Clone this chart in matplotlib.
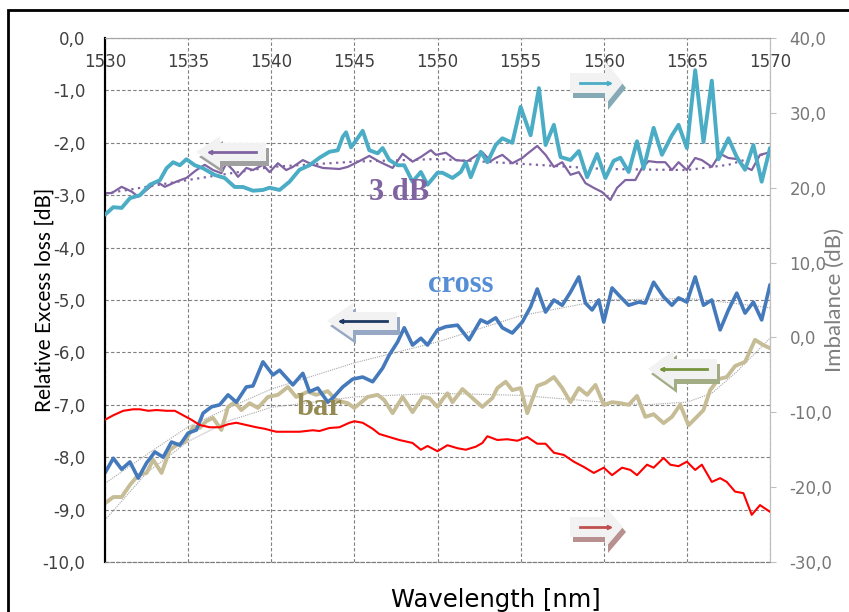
import numpy as np
import matplotlib
matplotlib.use("Agg")
import matplotlib.pyplot as plt
from matplotlib.ticker import FuncFormatter, MultipleLocator
from matplotlib.patches import Polygon, Rectangle
from matplotlib.lines import Line2D

## data (wavelength in nm)
# 3 dB imbalance, right axis (cyan)
wl_cyan = [1530.0, 1530.5, 1531.0, 1531.5, 1532.1, 1532.7, 1533.3, 1533.7, 1534.1, 1534.5,
           1534.9, 1535.4, 1535.9, 1536.6, 1537.2, 1537.8, 1538.3, 1538.9, 1539.5, 1539.9,
           1540.5, 1541.1, 1541.7, 1542.3, 1542.9, 1543.5, 1544.0, 1544.3, 1544.5, 1544.8,
           1545.0, 1545.5, 1545.9, 1546.4, 1546.7, 1547.1, 1547.6, 1548.0, 1548.5, 1549.0,
           1549.4, 1550.0, 1550.3, 1550.9, 1551.4, 1551.7, 1552.0, 1552.6, 1553.0, 1553.5,
           1553.9, 1554.5, 1555.0, 1555.6, 1556.1, 1556.5, 1557.0, 1557.4, 1558.0, 1558.5,
           1559.0, 1559.6, 1560.1, 1560.6, 1561.0, 1561.5, 1562.0, 1562.4, 1563.0, 1563.5,
           1564.1, 1564.5, 1565.0, 1565.5, 1566.0, 1566.5, 1566.9, 1567.5, 1568.0, 1568.5,
           1569.0, 1569.5, 1570.0]
imb_cyan = [16.4, 17.4, 17.3, 18.6, 19.0, 20.4, 21.0, 22.6, 23.4, 23.0,
            23.8, 23.0, 22.6, 21.7, 21.3, 20.1, 20.1, 19.6, 19.7, 20.0,
            19.7, 20.8, 22.4, 23.0, 24.0, 24.8, 25.0, 26.8, 27.4, 25.4,
            26.0, 27.6, 25.0, 24.6, 25.3, 23.7, 23.0, 23.0, 20.8, 22.1,
            20.4, 22.0, 22.0, 21.3, 22.1, 23.4, 21.4, 24.8, 23.4, 25.7,
            26.6, 26.0, 30.8, 27.0, 33.3, 25.7, 28.4, 24.1, 23.7, 24.9,
            21.4, 24.5, 21.3, 23.6, 24.0, 22.1, 26.2, 22.6, 28.0, 24.4,
            27.0, 28.4, 25.3, 35.7, 26.1, 34.3, 23.8, 26.6, 24.1, 22.4,
            25.7, 20.8, 25.3]

# 3 dB excess loss, left axis (purple)
wl_3db = [1530.0, 1530.4, 1531.0, 1531.6, 1532.0, 1532.5, 1533.1, 1533.6, 1534.3, 1534.9,
          1535.5, 1536.0, 1536.5, 1537.0, 1537.3, 1537.7, 1538.0, 1538.5, 1538.9, 1539.5,
          1539.9, 1540.4, 1540.9, 1541.3, 1541.9, 1542.5, 1543.1, 1544.1, 1544.6, 1545.3,
          1545.9, 1546.5, 1547.3, 1547.9, 1548.5, 1549.0, 1549.6, 1549.9, 1550.5, 1551.1,
          1551.8, 1552.4, 1552.7, 1553.2, 1553.5, 1553.9, 1554.5, 1555.1, 1555.4, 1556.0,
          1556.5, 1557.0, 1557.5, 1558.0, 1558.5, 1558.9, 1559.4, 1559.9, 1560.4, 1560.8,
          1561.3, 1561.9, 1562.3, 1562.7, 1563.2, 1563.7, 1564.1, 1564.5, 1565.0, 1565.5,
          1565.9, 1566.5, 1567.0, 1567.5, 1568.0, 1568.5, 1568.9, 1569.4, 1570.0]
el_3db = [-2.96, -2.96, -2.84, -2.93, -3.03, -2.90, -2.74, -2.84, -2.74, -2.67,
          -2.52, -2.42, -2.52, -2.58, -2.39, -2.52, -2.65, -2.48, -2.52, -2.42,
          -2.56, -2.39, -2.52, -2.46, -2.33, -2.42, -2.48, -2.50, -2.46, -2.35,
          -2.25, -2.36, -2.48, -2.21, -2.36, -2.27, -2.14, -2.23, -2.19, -2.33,
          -2.35, -2.23, -2.18, -2.35, -2.29, -2.23, -2.39, -2.29, -2.21, -2.06,
          -2.23, -2.46, -2.37, -2.61, -2.56, -2.77, -2.86, -2.94, -3.09, -2.86,
          -2.71, -2.71, -2.48, -2.35, -2.37, -2.37, -2.52, -2.37, -2.52, -2.29,
          -2.33, -2.46, -2.21, -2.29, -2.31, -2.46, -2.52, -2.23, -2.18]
wl_3db_fit = [1530, 1535, 1540, 1545, 1550, 1555, 1560, 1565, 1567.5, 1570]
fit_3db = [-2.97, -2.71, -2.46, -2.36, -2.31, -2.40, -2.50, -2.52, -2.42, -2.18]

# cross port excess loss, left axis (blue)
wl_cross = [1530.0, 1530.5, 1531.0, 1531.5, 1532.0, 1532.5, 1533.0, 1533.5, 1534.0, 1534.5,
            1535.0, 1535.5, 1535.9, 1536.4, 1536.9, 1537.4, 1537.9, 1538.5, 1538.9, 1539.5,
            1540.1, 1540.5, 1541.3, 1541.9, 1542.3, 1542.8, 1543.4, 1543.7, 1544.3, 1544.9,
            1545.5, 1546.1, 1546.7, 1547.1, 1547.6, 1548.0, 1548.5, 1549.0, 1549.4, 1550.0,
            1550.5, 1551.2, 1551.9, 1552.6, 1553.0, 1553.5, 1553.9, 1554.5, 1555.1, 1555.6,
            1556.0, 1556.5, 1557.0, 1557.5, 1558.0, 1558.5, 1558.9, 1559.3, 1559.7, 1560.0,
            1560.5, 1561.0, 1561.5, 1562.1, 1562.5, 1563.0, 1563.6, 1564.1, 1564.5, 1565.0,
            1565.5, 1566.0, 1566.5, 1567.0, 1567.5, 1568.0, 1568.5, 1569.0, 1569.5, 1570.0]
el_cross = [-8.30, -8.02, -8.23, -8.09, -8.40, -8.11, -7.90, -8.00, -7.71, -7.77,
            -7.54, -7.48, -7.16, -7.04, -7.00, -6.81, -6.95, -6.66, -6.64, -6.18,
            -6.43, -6.34, -6.62, -6.40, -6.75, -6.68, -6.95, -6.87, -6.66, -6.51,
            -6.47, -6.56, -6.30, -6.05, -5.80, -5.53, -5.86, -5.73, -5.86, -5.57,
            -5.51, -5.48, -5.76, -5.38, -5.44, -5.34, -5.53, -5.63, -5.42, -5.13,
            -4.79, -5.23, -5.00, -5.10, -4.85, -4.56, -5.06, -5.19, -5.00, -5.42,
            -4.77, -4.94, -5.10, -5.04, -5.06, -4.66, -4.94, -5.10, -4.96, -5.04,
            -4.56, -5.10, -5.00, -5.57, -5.19, -4.87, -5.25, -5.04, -5.38, -4.71]
wl_cross_fit = [1530, 1532.5, 1535, 1537.5, 1540, 1545, 1550, 1555, 1560, 1565, 1567.5, 1570]
fit_cross = [-8.50, -7.95, -7.42, -7.05, -6.70, -6.20, -5.80, -5.30, -5.00, -4.97, -5.05, -5.15]

# bar port excess loss, left axis (tan)
wl_bar = [1530.0, 1530.5, 1531.0, 1531.5, 1532.0, 1532.5, 1532.9, 1533.4, 1533.9, 1534.3,
          1534.8, 1535.3, 1535.7, 1536.1, 1536.5, 1537.0, 1537.4, 1537.8, 1538.2, 1538.7,
          1539.2, 1539.8, 1540.4, 1541.0, 1541.5, 1542.2, 1542.7, 1543.4, 1543.9, 1544.6,
          1545.0, 1545.8, 1546.4, 1546.8, 1547.3, 1547.9, 1548.5, 1549.1, 1549.5, 1550.0,
          1550.3, 1550.6, 1550.9, 1551.5, 1552.1, 1552.7, 1553.3, 1553.6, 1554.1, 1554.5,
          1555.0, 1555.4, 1556.0, 1556.5, 1557.0, 1557.5, 1558.0, 1558.5, 1559.0, 1559.5,
          1560.0, 1560.5, 1561.0, 1561.5, 1562.0, 1562.5, 1563.0, 1563.6, 1564.1, 1564.6,
          1565.1, 1565.6, 1566.0, 1566.4, 1566.9, 1567.4, 1567.9, 1568.5, 1569.1, 1569.6, 1570.0]
el_bar = [-8.88, -8.76, -8.76, -8.53, -8.34, -8.30, -8.05, -8.30, -7.86, -7.77,
          -7.71, -7.42, -7.44, -7.31, -7.25, -7.48, -7.04, -6.95, -7.10, -6.97,
          -7.06, -6.85, -6.81, -6.66, -6.85, -6.75, -6.81, -6.74, -6.91, -6.97,
          -7.06, -6.85, -6.81, -6.91, -7.16, -6.85, -7.14, -6.85, -6.87, -7.04,
          -6.90, -6.78, -6.95, -6.70, -6.87, -7.04, -6.87, -6.68, -6.56, -6.72,
          -6.68, -7.16, -6.64, -6.58, -6.47, -6.68, -6.95, -6.68, -6.81, -6.62,
          -7.00, -6.95, -6.97, -7.00, -6.83, -7.23, -7.18, -7.35, -7.23, -7.00,
          -7.39, -7.23, -7.10, -6.72, -6.51, -6.47, -6.26, -6.18, -5.76, -5.86, -5.92]
wl_bar_fit = [1530, 1532.5, 1535, 1537.5, 1540, 1545, 1550, 1555, 1560, 1562.5, 1565, 1566.5, 1568, 1570]
fit_bar = [-9.20, -8.30, -7.70, -7.30, -7.05, -6.85, -6.78, -6.82, -6.95, -7.00, -6.95, -6.78, -6.37, -5.73]

# cross/bar imbalance, right axis (red)
wl_red = [1530.0, 1530.5, 1531.1, 1531.7, 1532.1, 1532.6, 1533.1, 1533.7, 1534.2, 1534.7,
          1535.2, 1535.7, 1536.3, 1536.9, 1537.4, 1537.9, 1538.5, 1539.1, 1539.6, 1540.3,
          1541.0, 1541.7, 1542.5, 1542.9, 1543.5, 1544.1, 1544.7, 1545.0, 1545.5, 1546.1,
          1546.5, 1547.1, 1547.7, 1548.5, 1549.0, 1549.4, 1550.0, 1550.6, 1551.2, 1551.7,
          1552.3, 1552.7, 1553.0, 1553.6, 1554.2, 1554.8, 1555.4, 1556.0, 1556.5, 1557.0,
          1557.6, 1558.2, 1558.8, 1559.4, 1560.0, 1560.5, 1561.1, 1561.6, 1562.0, 1562.6,
          1563.0, 1563.6, 1564.0, 1564.5, 1565.0, 1565.5, 1565.9, 1566.5, 1567.0, 1567.4,
          1567.9, 1568.4, 1568.9, 1569.4, 1570.0]
imb_red = [-11.0, -10.4, -9.8, -9.6, -9.6, -9.8, -9.7, -9.8, -9.8, -10.4,
           -11.0, -11.7, -12.0, -12.0, -11.6, -11.4, -11.7, -12.0, -12.2, -12.6,
           -12.6, -12.6, -12.4, -12.5, -12.1, -12.0, -11.4, -11.2, -11.4, -12.2,
           -12.9, -13.3, -13.7, -14.1, -15.0, -14.5, -15.2, -14.4, -14.8, -15.0,
           -14.6, -14.1, -13.2, -13.7, -13.6, -13.8, -13.3, -14.2, -14.2, -15.4,
           -15.7, -16.6, -17.3, -18.1, -17.4, -18.4, -17.4, -17.7, -18.4, -17.0,
           -17.4, -16.1, -17.0, -17.2, -16.6, -17.7, -17.0, -19.3, -18.8, -19.3,
           -20.6, -20.8, -23.7, -22.4, -23.3]

W, H = 849, 612


def comma(v, pos):
    s = "%.1f" % v
    if s == "-0.0":
        s = "0.0"
    return s.replace(".", ",")


def fx(x):
    return x / W


def fy(y):
    return 1 - y / H


fig = plt.figure(figsize=(W / 100, H / 100), dpi=100)
ax = fig.add_axes([105 / W, 1 - 562 / H, 665 / W, 524 / H])
ax2 = ax.twinx()

rnd = dict(solid_joinstyle="round", solid_capstyle="round")

# left axis series
ax.plot(wl_bar_fit, fit_bar, color="#a6a6a6", lw=0.8, ls=(0, (1, 1)), zorder=2)
ax.plot(wl_cross_fit, fit_cross, color="#a6a6a6", lw=0.8, ls=(0, (1, 1)), zorder=2)
ax.plot(wl_bar, el_bar, color="#c6bd97", lw=2.8, zorder=3, **rnd)
ax.plot(wl_cross, el_cross, color="#4479bb", lw=2.6, zorder=4, **rnd)
ax.plot(wl_3db_fit, fit_3db, color="#8064a2", lw=1.6, ls=(0, (1, 2)), zorder=3)
ax.plot(wl_3db, el_3db, color="#8064a2", lw=1.6, zorder=4, **rnd)

# right axis series
ax2.plot(wl_red, imb_red, color="#ff0000", lw=1.5, zorder=3, **rnd)
ax2.plot(wl_cyan, imb_cyan, color="#4bacc6", lw=2.8, zorder=4, **rnd)

ax.set_xlim(1530, 1570)
ax.set_ylim(-10, 0)
ax2.set_ylim(-30, 40)
ax.xaxis.set_major_locator(MultipleLocator(5))
ax.yaxis.set_major_locator(MultipleLocator(1))
ax2.yaxis.set_major_locator(MultipleLocator(10))
ax.yaxis.set_major_formatter(FuncFormatter(comma))
ax2.yaxis.set_major_formatter(FuncFormatter(comma))

ax.grid(True, color="#7f7f7f", lw=0.8, ls=(0, (3, 2)))
ax.set_axisbelow(True)

ax.xaxis.tick_top()
ax.tick_params(axis="x", length=0, pad=-24, labelsize=12, labelcolor="#404040")
ax.tick_params(axis="y", length=0, pad=14, labelsize=12, labelcolor="#404040")
ax2.tick_params(axis="y", length=4, color="#bfbfbf", pad=10, labelsize=12, labelcolor="#777777")

for a in (ax, ax2):
    a.spines["bottom"].set_color("#7f7f7f")
    a.spines["bottom"].set_linewidth(0.8)
    a.spines["bottom"].set_linestyle((0, (3, 2)))
    a.spines["top"].set_color("#a6a6a6")
    a.spines["right"].set_color("#bfbfbf")
    a.spines["left"].set_color("black")
    a.spines["left"].set_linewidth(1.5)

ax.set_ylabel("Relative Excess loss [dB]", fontsize=15, family="Lato", color="black")
ax.yaxis.set_label_coords(-0.076, 0.5)
ax2.set_ylabel("Imbalance (dB)", fontsize=16, family="Lato", color="#7f7f7f", rotation=90)
ax2.yaxis.set_label_coords(1.083, 0.5)
ax.text(0.588, -0.073, "Wavelength [nm]", transform=ax.transAxes, ha="center", va="center",
        fontsize=17.5, color="black")

# curve names
ax2.text(1547.7, -2.94, "3 dB", transform=ax.transData, ha="center", va="center",
         family="Liberation Serif", weight="bold", fontsize=22, color="#8064a2", zorder=10)
ax2.text(1551.4, -4.71, "cross", transform=ax.transData, ha="center", va="center",
         family="Liberation Serif", weight="bold", fontsize=22, color="#558ed5", zorder=10)
ax2.text(1542.9, -7.06, "bar", transform=ax.transData, ha="center", va="center",
         family="Liberation Serif", weight="bold", fontsize=22, color="#948a54", zorder=10)


# block arrows telling which axis a curve belongs to
def block_arrow(tip, tail, yc, hh, sh, hl, line, shadow):
    d = 1 if tail > tip else -1
    hx = tip + d * hl
    pts = [(tip, yc), (hx, yc - hh), (hx, yc - sh), (tail, yc - sh),
           (tail, yc + sh), (hx, yc + sh), (hx, yc + hh)]
    sp = [(fx(x + 3), fy(y + 5)) for x, y in pts]
    bp = [(fx(x), fy(y)) for x, y in pts]
    fig.add_artist(Polygon(sp, closed=True, transform=fig.transFigure, fc=shadow, ec="none"))
    fig.add_artist(Polygon(bp, closed=True, transform=fig.transFigure, fc="#f2f2f2", ec="none"))
    x0 = tip + d * 14
    x1 = tail - d * 10
    fig.add_artist(Line2D([fx(x0), fx(x1)], [fy(yc), fy(yc)], transform=fig.transFigure,
                          color=line, lw=2))
    fig.add_artist(Line2D([fx(x0)], [fy(yc)], transform=fig.transFigure, color=line,
                          marker="<" if d == 1 else ">", ms=3, lw=0))


block_arrow(196, 266, 152, 16, 9, 24, "#8064a2", "#a0a0a0")
block_arrow(327, 397, 321, 18, 9, 26, "#1f3864", "#97a8c4")
block_arrow(648, 717, 369, 19, 10, 26, "#77933c", "#a3ad85")
block_arrow(623, 570, 83, 22, 10, 18, "#4bacc6", "#85aab5")
block_arrow(623, 570, 527, 21, 10, 18, "#c0504d", "#b89090")

# outer frame
fig.add_artist(Rectangle((fx(8), -0.1), 1.2, fy(10) + 0.1, transform=fig.transFigure,
                         fill=False, ec="black", lw=2))

fig.savefig("out.png", dpi=100)
